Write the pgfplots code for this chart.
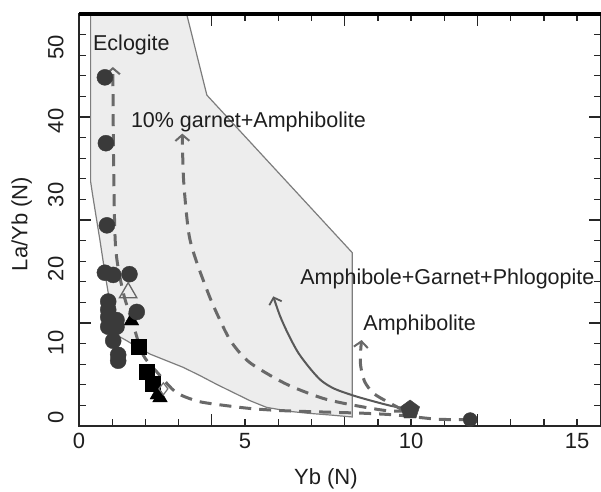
\documentclass[border=0pt]{standalone}
\usepackage{fontspec}
\setmainfont{Liberation Sans}
\usepackage{pgfplots}
\pgfplotsset{compat=1.18}
\usetikzlibrary{arrows.meta}
\definecolor{regfill}{RGB}{237,237,237}
\definecolor{bnd}{RGB}{125,125,125}
\definecolor{dsh}{RGB}{105,105,105}
\definecolor{mk}{RGB}{58,58,58}
\definecolor{txt}{RGB}{30,30,30}
\begin{document}
\begin{tikzpicture}[x=1pt,y=1pt]
\path[use as bounding box] (-79,-65) rectangle (522,426);
\begin{axis}[
 at={(0,0)}, anchor=south west, scale only axis, width=522pt, height=412pt,
 xmin=0, xmax=15.72, ymin=-1.22, ymax=54.46,
 clip mode=individual,
 axis line style={line width=1.6pt, color=black!85},
 xtick={0,5,10,15}, xticklabels={0,5,10,15},
 ytick={0,10,20,30,40,50}, yticklabels={0,10,20,30,40,50},
 minor xtick={1,2,...,15},
 minor ytick={1.564,4.348,7.132,9.916,12.7,15.484,18.268,21.052,23.836,26.62,29.404,32.188,34.972,37.756,40.54,43.324,46.108,48.892,51.676},
 major tick length=0pt, minor tick length=7pt,
 tick style={line width=1.3pt, color=black!85},
 extra x ticks={4,8,12}, extra x tick labels={},
 extra y ticks={12.7,26.62,40.54}, extra y tick labels={},
 extra tick style={major tick length=12pt},
 /pgf/number format/assume math mode=true,
 ticklabel style={font=\fontsize{22}{26}\selectfont, text=txt},
 xticklabel style={yshift=-4pt},
 yticklabel style={xshift=-12pt, rotate=90, anchor=south},
 xlabel={Yb (N)}, ylabel={La/Yb (N)},
 label style={font=\fontsize{22}{26}\selectfont, text=txt},
 xlabel style={at={(axis description cs:0.473,-0.129)}, anchor=center, inner sep=0pt},
 ylabel style={at={(axis description cs:-0.11,0.49)}, anchor=center, rotate=0},
]
% shaded field
\addplot[fill=regfill, draw=bnd, line width=1.2pt] coordinates {
 (0.35,56) (3.24,56) (3.24,54.5) (3.85,43.5) (8.23,22.2) (8.23,0.0)
 (7.56,0.27) (6.9,0.5) (6.36,0.75) (5.65,1.3) (5.15,2.2) (4.65,3.3)
 (4.15,4.4) (3.64,5.6) (3.14,6.7) (2.64,7.6) (2.14,8.5) (1.7,9.6)
 (1.44,10.3) (1.2,10.9) (1.05,13) (0.93,15.4) (0.78,19.5) (0.63,23.9)
 (0.5,27.5) (0.4,30.3) (0.35,31.8)
} -- cycle;
% Eclogite trend
\addplot[dsh, line width=3pt, dash pattern=on 12pt off 8pt, smooth,
 -{Straight Barb[length=6pt,width=14pt,line width=2pt]}] coordinates {
 (11.8,-0.35) (10.8,-0.3) (9.6,0.25) (8.6,0.5) (7.5,0.65) (6.15,0.85)
 (5.15,1.15) (4.15,1.7) (3.6,2.1) (3.1,2.9) (2.8,3.8) (2.39,5.85)
 (1.93,8.4) (1.63,12.5) (1.35,16.5) (1.15,21) (1.08,25) (1.04,35) (1.02,47.3)
};
% 10% garnet + amphibolite trend
\addplot[dsh, line width=3pt, dash pattern=on 12pt off 8pt, smooth,
 -{Straight Barb[length=6pt,width=14pt,line width=2pt]}] coordinates {
 (9.85,0.8) (9.27,0.85) (8.26,1.6) (7.36,2.5) (6.36,4.2) (5.65,5.9)
 (5.05,7.7) (4.55,10.4) (4.1,14.5) (3.85,17.2) (3.5,21.5) (3.3,25)
 (3.15,32) (3.11,38.3)
};
% Amphibole+Garnet+Phlogopite trend
\addplot[black!65, line width=2pt, smooth,
 -{Straight Barb[length=6pt,width=13pt,line width=1.8pt]}] coordinates {
 (9.9,1.1) (9.4,1.5) (8.8,2.2) (8.26,2.9) (7.7,3.8) (7.3,4.9)
 (6.95,6.6) (6.6,8.7) (6.3,11.2) (6.05,13.7) (5.85,16.3)
};
% Amphibolite trend
\addplot[dsh, line width=3pt, dash pattern=on 12pt off 8pt, smooth,
 -{Straight Barb[length=6pt,width=14pt,line width=2pt]}] coordinates {
 (9.75,0.95) (9.27,2.1) (8.87,3.2) (8.6,4.8) (8.48,7.0) (8.48,8.8) (8.51,10.4)
};
% samples
\addplot[only marks, mark=triangle*, mark size=8.5pt, mark options={fill=black, draw=black}] coordinates {
 (1.58,13.0) (2.36,3.0) (2.44,2.6)
};
\addplot[only marks, mark=*, mark size=8pt, mark options={fill=mk, draw=mk}] coordinates {
 (0.78,45.9) (0.81,37.0) (0.84,25.9) (0.78,19.5) (1.03,19.2) (1.52,19.3)
 (0.88,15.6) (0.88,14.5) (1.74,14.2) (0.88,13.5) (1.13,13.1) (0.88,12.2)
 (1.13,12.2) (1.03,10.3) (1.18,8.4) (1.18,7.6)
};
\addplot[only marks, mark=square*, mark size=7.5pt, mark options={fill=black, draw=black}] coordinates {
 (1.81,9.5) (2.04,6.1) (2.22,4.5)
};
\addplot[only marks, mark=diamond, mark size=6pt, mark options={fill=white, draw=black!55, line width=1.2pt}] coordinates {
 (2.54,3.8)
};
\addplot[only marks, mark=triangle, mark size=10pt, mark options={fill=white, draw=black!60, line width=1.3pt}] coordinates {
 (1.48,16.8)
};
\addplot[only marks, mark=pentagon*, mark size=10pt, mark options={fill=black!75, draw=black!75}] coordinates {
 (9.97,0.95)
};
\addplot[only marks, mark=*, mark size=7pt, mark options={fill=mk, draw=mk}] coordinates {
 (11.78,-0.35)
};
% annotations
\node[anchor=west, font=\fontsize{21.5}{25}\selectfont, text=txt, inner sep=0pt] at (axis cs:0.42,50.3) {Eclogite};
\node[anchor=west, font=\fontsize{21.5}{25}\selectfont, text=txt, inner sep=0pt] at (axis cs:1.56,39.9) {10\% garnet+Amphibolite};
\node[anchor=west, font=\fontsize{21.5}{25}\selectfont, text=txt, inner sep=0pt] at (axis cs:6.66,18.7) {Amphibole+Garnet+Phlogopite};
\node[anchor=west, font=\fontsize{21.5}{25}\selectfont, text=txt, inner sep=0pt] at (axis cs:8.56,12.4) {Amphibolite};
\end{axis}
\draw[line width=3.5pt, black] (current axis.north west) -- (current axis.north east);
\end{tikzpicture}
\end{document}
